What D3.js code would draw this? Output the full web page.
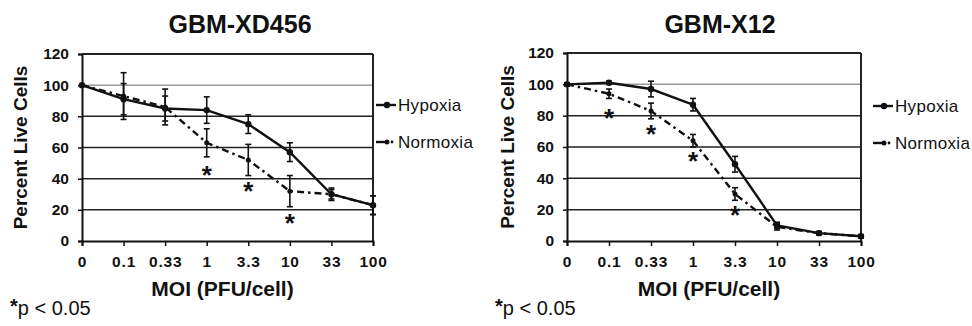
<!DOCTYPE html>
<html>
<head>
<meta charset="utf-8">
<script src="https://cdn.jsdelivr.net/npm/d3@7"></script>
<style>
  body { margin: 0; background: #fff; }
  text { font-family: "Liberation Sans", Arial, sans-serif; fill: #111; }
</style>
</head>
<body>
<div id="chart"></div>
<script>
// Width and height
var width = 972;
var height = 326;

// MOI categories and y ticks
var moiLabels = ['0', '0.1', '0.33', '1', '3.3', '10', '33', '100'];
var yTicks = [0, 20, 40, 60, 80, 100, 120];

// GBM-XD456
var xd456Hypoxia = [100, 91, 85, 84, 75, 57, 30, 23];
var xd456HypoxiaErr = [0, 10, 8, 8.5, 6, 6, 3, 6];
var xd456Normoxia = [100, 93, 86, 63, 52, 32, 30, 23];
var xd456NormoxiaErr = [0, 15, 11.5, 9, 10, 10, 4, 6];
var xd456Stars = [null, null, null, 45.5, 35, 15, null, null];

// GBM-X12
var x12Hypoxia = [100, 101, 97, 87, 49, 10, 5, 3];
var x12HypoxiaErr = [1, 1, 5, 4, 5, 2, 1, 1];
var x12Normoxia = [100, 94, 83, 64, 30, 9, 5, 3];
var x12NormoxiaErr = [1, 3, 5, 4, 4, 2, 1, 1];
var x12Stars = [null, 82, 71.5, 54, 20, null, null, null];

var svg = d3.select('#chart')
  .append('svg')
  .attr('width', width)
  .attr('height', height);

svg.append('rect').attr('width', width).attr('height', height).attr('fill', '#fff');

function drawPanel(p) {
  var g = svg.append('g').attr('transform', 'translate(' + p.offset + ',0)');

  var xScale = d3.scalePoint().domain(moiLabels).range([p.left, p.right]);
  var yScale = d3.scaleLinear().domain([0, 120]).range([p.bottom, p.top]);

  // gridlines
  g.selectAll('.grid')
    .data(yTicks.filter(function (d) { return d > 0; }))
    .enter()
    .append('line')
    .attr('x1', p.left).attr('x2', p.right)
    .attr('y1', function (d) { return yScale(d); })
    .attr('y2', function (d) { return yScale(d); })
    .style('stroke', function (d) { return d === 100 ? '#9a9a9a' : '#222'; })
    .style('stroke-width', function (d) { return d === 120 ? 2 : 1.5; });

  // right border
  g.append('line')
    .attr('x1', p.right).attr('x2', p.right)
    .attr('y1', yScale(120)).attr('y2', yScale(0))
    .style('stroke', '#222').style('stroke-width', 2);

  // axes
  var yAxis = d3.axisLeft(yScale).tickValues(yTicks).tickSize(4).tickPadding(9);
  var xAxis = d3.axisBottom(xScale).tickSize(5).tickPadding(10);

  var ya = g.append('g').attr('transform', 'translate(' + p.left + ',0)').call(yAxis);
  var xa = g.append('g').attr('transform', 'translate(0,' + p.bottom + ')').call(xAxis);
  [ya, xa].forEach(function (a) {
    a.select('.domain').style('stroke', '#111').style('stroke-width', 2);
    a.selectAll('.tick line').style('stroke', '#111').style('stroke-width', 1.5);
    a.selectAll('text')
      .style('font-size', '15.5px')
      .style('font-weight', 'bold')
      .style('font-family', '"Liberation Sans", Arial, sans-serif')
      .style('fill', '#111');
  });
  xa.selectAll('text').style('letter-spacing', '0.8px');

  var series = [
    { name: 'Hypoxia', values: p.hyp, err: p.hypErr, dash: null, r: 3.2 },
    { name: 'Normoxia', values: p.norm, err: p.normErr, dash: '7,4,2.5,4', r: 2.5 }
  ];

  var line = d3.line()
    .x(function (d, i) { return xScale(moiLabels[i]); })
    .y(function (d) { return yScale(d); });

  series.forEach(function (s) {
    // error bars
    var eb = g.append('g');
    s.values.forEach(function (v, i) {
      if (!s.err[i]) return;
      var x = xScale(moiLabels[i]);
      var y1 = yScale(v + s.err[i]), y2 = yScale(v - s.err[i]);
      eb.append('line').attr('x1', x).attr('x2', x).attr('y1', y1).attr('y2', y2);
      eb.append('line').attr('x1', x - 3).attr('x2', x + 3).attr('y1', y1).attr('y2', y1);
      eb.append('line').attr('x1', x - 3).attr('x2', x + 3).attr('y1', y2).attr('y2', y2);
    });
    eb.selectAll('line').style('stroke', '#111').style('stroke-width', 1.6);

    g.append('path')
      .datum(s.values)
      .attr('d', line)
      .style('fill', 'none')
      .style('stroke', '#111')
      .style('stroke-width', 2.4)
      .style('stroke-dasharray', s.dash);

    g.selectAll('.pt-' + s.name)
      .data(s.values)
      .enter()
      .append('circle')
      .attr('cx', function (d, i) { return xScale(moiLabels[i]); })
      .attr('cy', function (d) { return yScale(d); })
      .attr('r', s.r)
      .style('fill', '#111');
  });

  // significance stars
  p.stars.forEach(function (d, i) {
    if (d === null) return;
    g.append('text')
      .attr('x', xScale(moiLabels[i]))
      .attr('y', yScale(d) + 14)
      .attr('text-anchor', 'middle')
      .style('font-size', '26px')
      .style('font-weight', 'bold')
      .text('*');
  });

  // title
  g.append('text')
    .attr('x', p.titleX).attr('y', 33)
    .attr('text-anchor', 'middle')
    .style('font-size', '25px').style('font-weight', 'bold')
    .text(p.title);

  // axis titles
  g.append('text')
    .attr('x', (p.left + p.right) / 2 - 5).attr('y', 296)
    .attr('text-anchor', 'middle')
    .style('font-size', '21px').style('font-weight', 'bold')
    .text('MOI (PFU/cell)');

  g.append('text')
    .attr('transform', 'translate(' + p.yTitleX + ',' + (p.top + p.bottom) / 2 + ') rotate(-90)')
    .attr('text-anchor', 'middle')
    .attr('dy', '0.35em')
    .style('font-size', '19px').style('font-weight', 'bold')
    .text('Percent Live Cells');

  // legend
  series.forEach(function (s, i) {
    var ly = p.legendY[i];
    var lg = g.append('g');
    if (s.dash) {
      lg.append('line').attr('x1', p.legendX).attr('x2', p.legendX + 11)
        .attr('y1', ly).attr('y2', ly).style('stroke', '#111').style('stroke-width', 2.4);
      lg.append('circle').attr('cx', p.legendX + 16).attr('cy', ly).attr('r', 1.4).style('fill', '#111');
    } else {
      lg.append('line').attr('x1', p.legendX).attr('x2', p.legendX + 20)
        .attr('y1', ly).attr('y2', ly).style('stroke', '#111').style('stroke-width', 2.4);
    }
    lg.append('circle').attr('cx', p.legendX + 11).attr('cy', ly).attr('r', s.r).style('fill', '#111');
    lg.append('text')
      .attr('x', p.legendX + 22).attr('y', ly).attr('dy', '0.36em')
      .style('font-size', '17px').style('letter-spacing', '0.3px')
      .text(s.name);
  });

  // footnote
  var fn = g.append('text').attr('x', 10).attr('y', 315).style('font-size', '20px');
  fn.append('tspan').style('font-weight', 'bold').attr('dy', -2).text('*');
  fn.append('tspan').attr('dy', 2).text('p < 0.05');
}

drawPanel({
  offset: 0, left: 82, right: 373, top: 54, bottom: 241,
  title: 'GBM-XD456', titleX: 240, yTitleX: 20,
  legendX: 376, legendY: [105, 142],
  hyp: xd456Hypoxia, hypErr: xd456HypoxiaErr,
  norm: xd456Normoxia, normErr: xd456NormoxiaErr,
  stars: xd456Stars
});

drawPanel({
  offset: 485, left: 82, right: 376, top: 53, bottom: 241,
  title: 'GBM-X12', titleX: 235, yTitleX: 22,
  legendX: 388, legendY: [106, 143],
  hyp: x12Hypoxia, hypErr: x12HypoxiaErr,
  norm: x12Normoxia, normErr: x12NormoxiaErr,
  stars: x12Stars
});
</script>
</body>
</html>
